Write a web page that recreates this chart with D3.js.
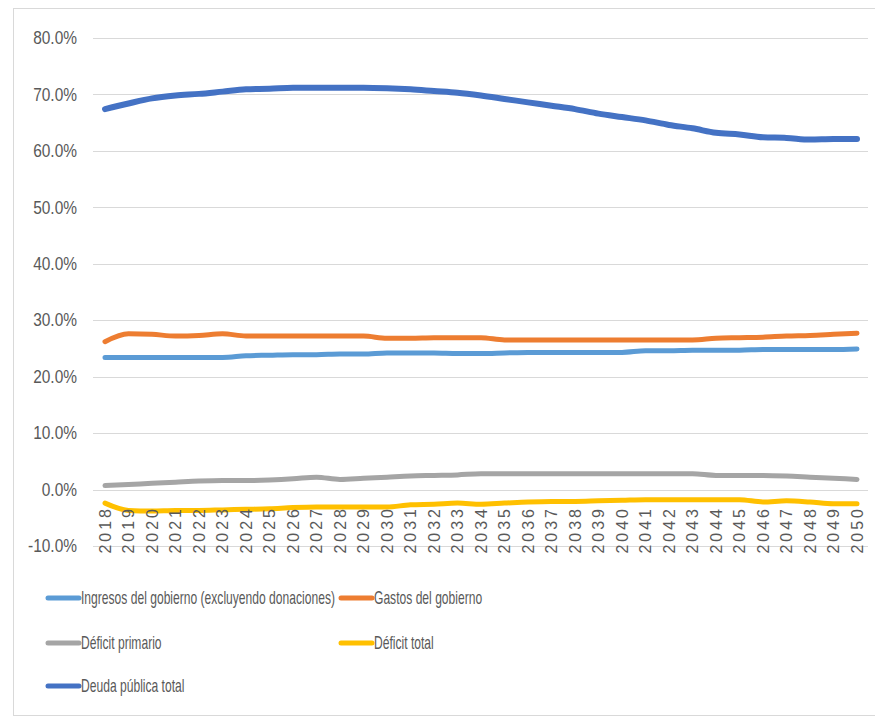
<!DOCTYPE html>
<html>
<head>
<meta charset="utf-8">
<script src="https://cdn.jsdelivr.net/npm/d3@7"></script>
<style>
  html, body { margin: 0; padding: 0; background: #fff; }
  svg { display: block; }
  text { font-family: "Liberation Sans", Arial, sans-serif; fill: #595959; }
</style>
</head>
<body>
<svg id="chart" width="875" height="718"></svg>
<script>
// Years on the category axis
const years = d3.range(2018, 2051).map(String);

// Series values, % of GDP
const ingresos = [23.4, 23.4, 23.4, 23.4, 23.4, 23.4, 23.7, 23.8, 23.9, 23.9, 24.0, 24.0, 24.2, 24.2, 24.2, 24.1, 24.1, 24.2, 24.3, 24.3, 24.3, 24.3, 24.3, 24.6, 24.6, 24.7, 24.7, 24.7, 24.8, 24.8, 24.8, 24.8, 24.9];
const gastos = [26.2, 27.6, 27.5, 27.2, 27.3, 27.6, 27.2, 27.2, 27.2, 27.2, 27.2, 27.2, 26.8, 26.8, 26.9, 26.9, 26.9, 26.5, 26.5, 26.5, 26.5, 26.5, 26.5, 26.5, 26.5, 26.5, 26.8, 26.9, 27.0, 27.2, 27.3, 27.5, 27.7];
const deficitPrimario = [0.7, 0.9, 1.1, 1.3, 1.5, 1.6, 1.6, 1.7, 1.9, 2.2, 1.8, 2.0, 2.2, 2.4, 2.5, 2.6, 2.8, 2.8, 2.8, 2.8, 2.8, 2.8, 2.8, 2.8, 2.8, 2.8, 2.5, 2.5, 2.5, 2.4, 2.2, 2.0, 1.8];
const deficitTotal = [-2.4, -3.7, -3.8, -3.7, -3.7, -3.6, -3.5, -3.4, -3.2, -3.1, -3.1, -3.1, -3.1, -2.7, -2.6, -2.4, -2.6, -2.4, -2.2, -2.1, -2.1, -2.0, -1.9, -1.8, -1.8, -1.8, -1.8, -1.8, -2.2, -2.0, -2.2, -2.5, -2.5];
const deuda = [67.4, 68.4, 69.3, 69.8, 70.1, 70.5, 70.9, 71.0, 71.2, 71.2, 71.2, 71.2, 71.1, 70.9, 70.6, 70.3, 69.8, 69.2, 68.6, 68.0, 67.4, 66.6, 66.0, 65.4, 64.6, 64.0, 63.2, 62.9, 62.4, 62.3, 62.0, 62.1, 62.1];

// Value axis ticks
const yTicks = [-10, 0, 10, 20, 30, 40, 50, 60, 70, 80];

const seriesNames = ["Ingresos del gobierno (excluyendo donaciones)", "Gastos del gobierno", "Déficit primario", "Déficit total", "Deuda pública total"];
const seriesColors = ["#5B9BD5", "#ED7D31", "#A5A5A5", "#FFC000", "#4472C4"];
const seriesValues = [ingresos, gastos, deficitPrimario, deficitTotal, deuda];

const svg = d3.select("#chart");

// Chart frame
svg.append("rect")
  .attr("x", 13.5).attr("y", 8.5)
  .attr("width", 880).attr("height", 707)
  .attr("fill", "#fff").attr("stroke", "#d9d9d9").attr("stroke-width", 1);

const x = d3.scalePoint().domain(years).range([105, 857]);
const y = d3.scaleLinear().domain([-10, 80]).range([546, 38]);

// Horizontal gridlines
svg.append("g")
  .selectAll("line")
  .data(yTicks)
  .join("line")
  .attr("x1", 93).attr("x2", 868)
  .attr("y1", d => Math.round(y(d)) + 0.5)
  .attr("y2", d => Math.round(y(d)) + 0.5)
  .attr("stroke", "#d9d9d9").attr("stroke-width", 1);

// Value axis labels (narrowed horizontally for a condensed look)
const yAxis = d3.axisLeft(y).tickValues(yTicks).tickSize(0).tickPadding(0)
  .tickFormat(d => d.toFixed(1) + "%");
svg.append("g")
  .attr("transform", "translate(77,0)")
  .call(yAxis)
  .call(g => g.select(".domain").remove())
  .call(g => g.selectAll("text")
    .attr("x", 0)
    .attr("font-size", 18)
    .attr("fill", "#595959")
    .attr("font-family", "Liberation Sans, Arial, sans-serif")
    .attr("transform", "scale(0.86,1)"));

// Lines
const line = d3.line()
  .x((d, i) => x(years[i]))
  .y(d => y(d))
  .curve(d3.curveMonotoneX);

const widths = [5, 5, 5, 5, 6];
svg.append("g")
  .selectAll("path")
  .data(seriesValues)
  .join("path")
  .attr("d", d => line(d))
  .attr("fill", "none")
  .attr("stroke", (d, i) => seriesColors[i])
  .attr("stroke-width", (d, i) => widths[i])
  .attr("stroke-linecap", "round")
  .attr("stroke-linejoin", "round");

// Category labels, rotated, below the zero line
const xAxis = d3.axisBottom(x).tickSize(0).tickPadding(0);
svg.append("g")
  .call(xAxis)
  .call(g => g.select(".domain").remove())
  .call(g => g.selectAll(".tick").attr("transform", d => `translate(${x(d)},506)`))
  .call(g => g.selectAll("text")
    .attr("transform", "rotate(-90)")
    .attr("text-anchor", "end")
    .attr("x", 0).attr("y", 0)
    .attr("dy", "0.36em")
    .attr("font-size", 16)
    .attr("letter-spacing", 3)
    .attr("fill", "#6a6a6a")
    .attr("font-family", "Liberation Sans, Arial, sans-serif"));

// Legend
const legendPos = [
  { lx: 48, ly: 598 },
  { lx: 341, ly: 598 },
  { lx: 48, ly: 643 },
  { lx: 341, ly: 643 },
  { lx: 48, ly: 686 }
];
const legend = svg.append("g")
  .selectAll("g")
  .data(seriesNames)
  .join("g")
  .attr("transform", (d, i) => `translate(${legendPos[i].lx},${legendPos[i].ly})`);
legend.append("line")
  .attr("x1", 0).attr("x2", 31).attr("y1", 0).attr("y2", 0)
  .attr("stroke", (d, i) => seriesColors[i])
  .attr("stroke-width", 5)
  .attr("stroke-linecap", "round");
const legendText = legend.append("text")
  .attr("x", 0).attr("y", 0).attr("dy", "0.35em")
  .attr("font-size", 18)
  .text(d => d);
// One horizontal factor for every legend label so the longest spans ~254px
const longest = legendText.filter((d, i) => i === 0).node().getComputedTextLength();
const k = 254 / longest;
legendText.attr("transform", `translate(33,0) scale(${k},1)`);
</script>
</body>
</html>
